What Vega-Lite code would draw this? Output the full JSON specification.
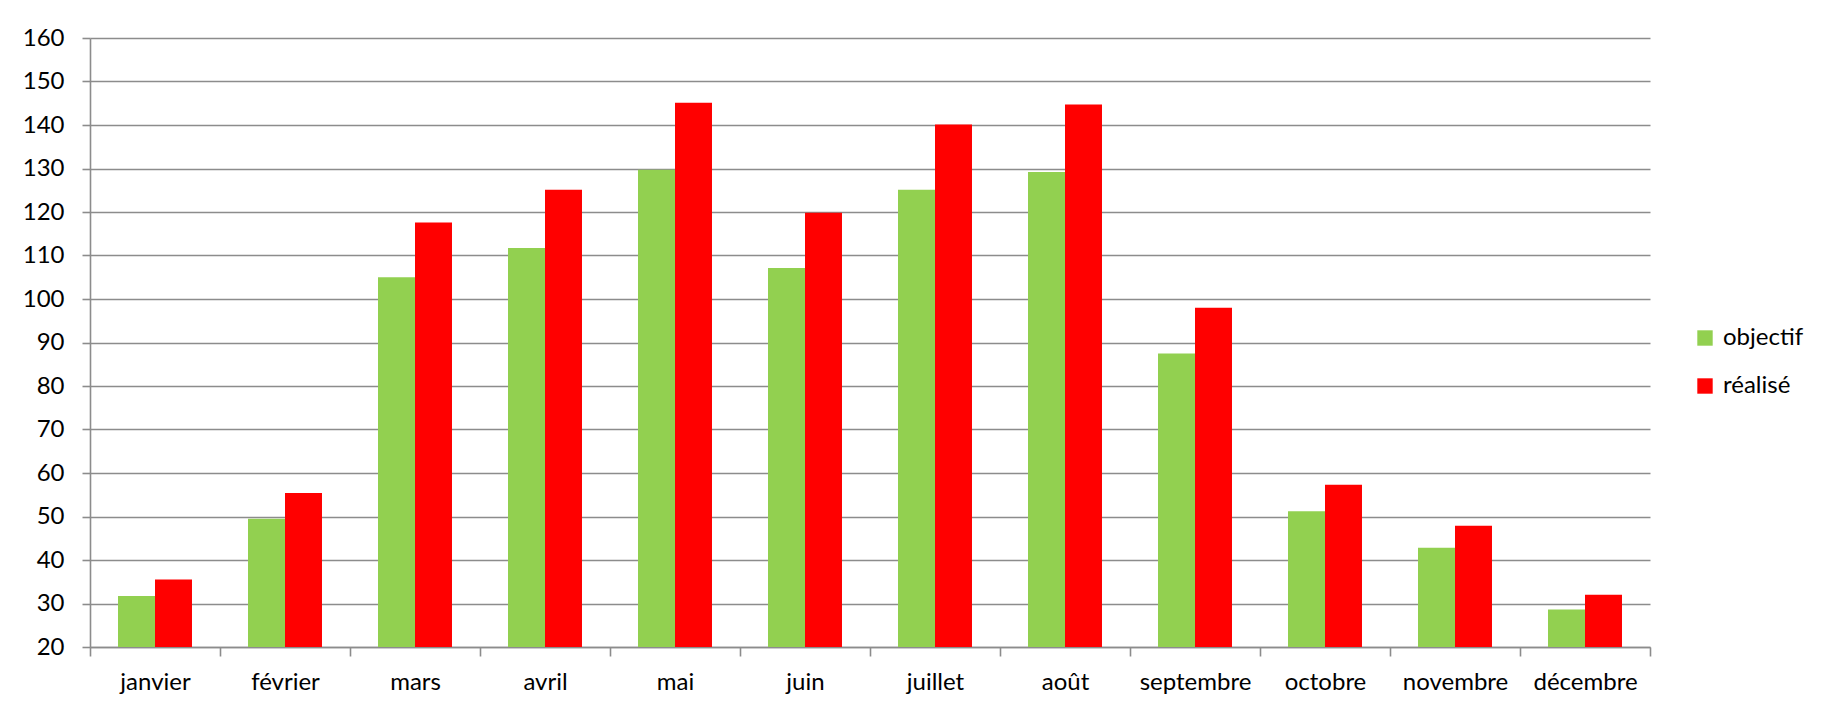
{
  "$schema": "https://vega.github.io/schema/vega-lite/v6.json",
  "width": 1560,
  "height": 609,
  "autosize": {"type": "none"},
  "padding": {"left": 90, "top": 38, "right": 171, "bottom": 64},
  "background": "white",
  "config": {
    "font": "Lato",
    "view": {"stroke": null},
    "axis": {
      "labelFont": "Lato",
      "labelFontSize": 24,
      "labelColor": "#000000",
      "domainColor": "#8c8c8c",
      "domainWidth": 1.6,
      "tickColor": "#8c8c8c",
      "tickWidth": 1.6,
      "gridColor": "#8c8c8c",
      "gridWidth": 1.6,
      "gridOpacity": 1,
      "title": null
    },
    "legend": {
      "labelFont": "Lato",
      "labelFontSize": 24,
      "labelColor": "#000000"
    }
  },
  "data": {
    "values": [
      {"mois": "janvier", "serie": "objectif", "valeur": 31.7},
      {"mois": "janvier", "serie": "réalisé", "valeur": 35.5},
      {"mois": "février", "serie": "objectif", "valeur": 49.5},
      {"mois": "février", "serie": "réalisé", "valeur": 55.4},
      {"mois": "mars", "serie": "objectif", "valeur": 105.0},
      {"mois": "mars", "serie": "réalisé", "valeur": 117.6},
      {"mois": "avril", "serie": "objectif", "valeur": 111.7},
      {"mois": "avril", "serie": "réalisé", "valeur": 125.1},
      {"mois": "mai", "serie": "objectif", "valeur": 129.7},
      {"mois": "mai", "serie": "réalisé", "valeur": 145.1},
      {"mois": "juin", "serie": "objectif", "valeur": 107.1},
      {"mois": "juin", "serie": "réalisé", "valeur": 119.8},
      {"mois": "juillet", "serie": "objectif", "valeur": 125.1},
      {"mois": "juillet", "serie": "réalisé", "valeur": 140.1},
      {"mois": "août", "serie": "objectif", "valeur": 129.2},
      {"mois": "août", "serie": "réalisé", "valeur": 144.7},
      {"mois": "septembre", "serie": "objectif", "valeur": 87.5},
      {"mois": "septembre", "serie": "réalisé", "valeur": 98.0},
      {"mois": "octobre", "serie": "objectif", "valeur": 51.2},
      {"mois": "octobre", "serie": "réalisé", "valeur": 57.3},
      {"mois": "novembre", "serie": "objectif", "valeur": 42.8},
      {"mois": "novembre", "serie": "réalisé", "valeur": 47.9},
      {"mois": "décembre", "serie": "objectif", "valeur": 28.6},
      {"mois": "décembre", "serie": "réalisé", "valeur": 32.0}
    ]
  },
  "mark": {"type": "bar", "clip": true},
  "encoding": {
    "x": {
      "field": "mois",
      "type": "nominal",
      "sort": ["janvier", "février", "mars", "avril", "mai", "juin", "juillet", "août", "septembre", "octobre", "novembre", "décembre"],
      "scale": {"paddingInner": 0, "paddingOuter": 0},
      "axis": {
        "labelAngle": 0,
        "tickBand": "extent",
        "tickSize": 9,
        "labelPadding": 14,
        "grid": false,
        "domain": true
      }
    },
    "xOffset": {
      "field": "serie",
      "type": "nominal",
      "sort": ["objectif", "réalisé"],
      "scale": {"paddingInner": 0, "paddingOuter": 0.757}
    },
    "y": {
      "field": "valeur",
      "type": "quantitative",
      "scale": {"domain": [20, 160], "zero": false, "nice": false},
      "axis": {
        "values": [20, 30, 40, 50, 60, 70, 80, 90, 100, 110, 120, 130, 140, 150, 160],
        "tickSize": 8,
        "labelPadding": 18,
        "grid": true,
        "domain": true
      }
    },
    "color": {
      "field": "serie",
      "type": "nominal",
      "sort": ["objectif", "réalisé"],
      "scale": {"domain": ["objectif", "réalisé"], "range": ["#92D050", "#FF0000"]},
      "legend": {
        "title": null,
        "orient": "none",
        "legendX": 1603,
        "legendY": 288,
        "symbolType": "square",
        "symbolSize": 237,
        "symbolStrokeWidth": 0,
        "symbolOpacity": 1,
        "labelOffset": 6,
        "rowPadding": 24,
        "padding": 0
      }
    }
  }
}
